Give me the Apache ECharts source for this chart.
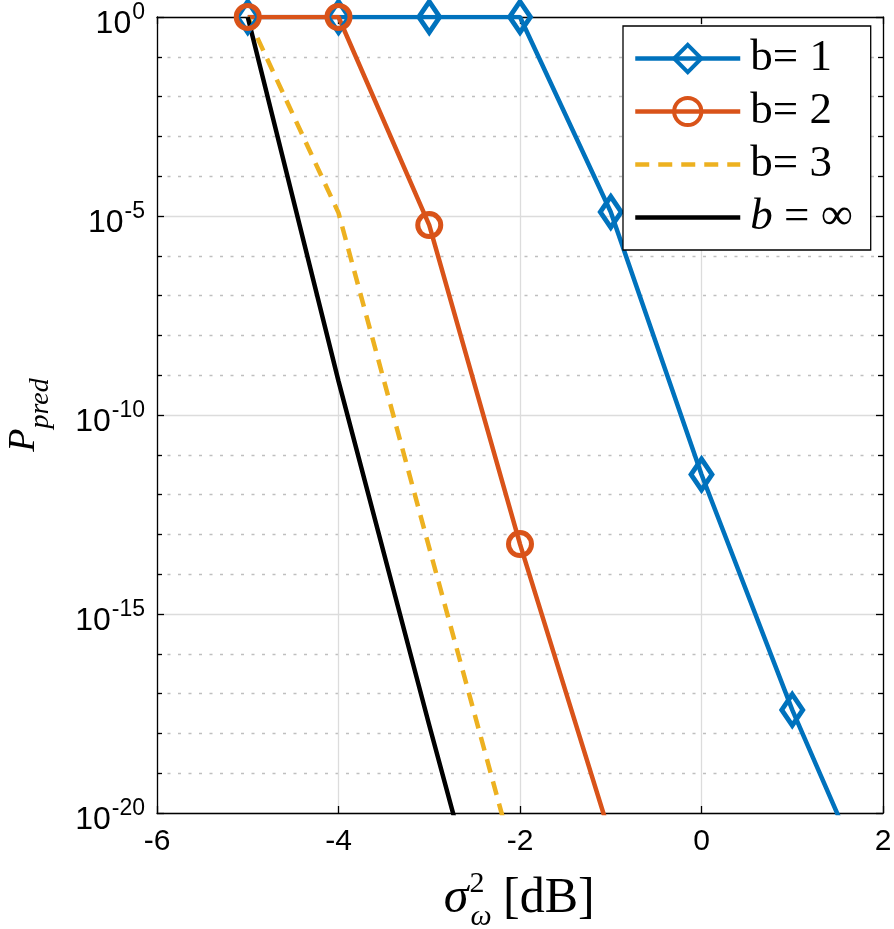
<!DOCTYPE html>
<html><head><meta charset="utf-8">
<script src="https://cdn.jsdelivr.net/npm/echarts@6/dist/echarts.min.js"></script>
<style>html,body{margin:0;padding:0;background:#fff}#c{width:894px;height:929px}</style>
</head><body><div id="c"></div>
<script>
// ---- data ----
const xTicks = [-6, -4, -2, 0, 2];
const yTickExponents = [-20, -15, -10, -5, 0];
const seriesNames = ['b= 1', 'b= 2', 'b= 3', 'b = ∞'];

const x_b1 = [-5, -4, -3, -2, -1, 0, 1, 2];
const p_b1 = [1, 1, 1, 1, 1.26e-5, 3.2e-12, 3.9e-18, 2.2e-23];

const x_b2 = [-5, -4, -3, -2, -1];
const p_b2 = [1, 1, 5.9e-6, 5.7e-14, 2.5e-21];

const x_b3 = [-5, -4, -3, -2];
const p_b3 = [1, 1.2e-5, 4.6e-14, 2e-22];

const x_binf = [-5, -4, -3, -2];
const p_binf = [1, 7.1e-10, 1.6e-18, 6e-27];

// ---- build ----
const toPairs = (xs, ps) => xs.map((x, i) => [x, Math.log10(ps[i])]);
const BLUE = '#0072BD', ORANGE = '#D95319', YELLOW = '#EDB120', BLACK = '#000000';
const serif = '"Liberation Serif", "DejaVu Serif", serif';
const sans = '"Liberation Sans", Arial, sans-serif';
const clear = 'rgba(0,0,0,0)';
const LW = 4.5;

const chart = echarts.init(document.getElementById('c'), null, {renderer: 'canvas'});

const yAxisBase = {
  type: 'value', min: yTickExponents[0], max: yTickExponents[yTickExponents.length - 1], interval: 5,
  axisLine: {show: true, onZero: false, lineStyle: {color: '#000', width: 1.3}},
  axisTick: {show: true, inside: true, length: 7, lineStyle: {color: '#000', width: 1.3}},
  minorTick: {show: true, splitNumber: 5, length: 5, lineStyle: {color: '#000', width: 1.3}}
};
const xAxisBase = {
  type: 'value', min: xTicks[0], max: xTicks[xTicks.length - 1], interval: 2,
  axisLine: {show: true, onZero: false, lineStyle: {color: '#000', width: 1.3}},
  axisTick: {show: true, inside: true, length: 7, lineStyle: {color: '#000', width: 1.3}}
};

const option = {
  animation: false,
  backgroundColor: '#fff',
  grid: {left: 157, right: 11, top: 17, bottom: 116, containLabel: false, outerBoundsMode: 'none'},
  xAxis: [
    Object.assign({}, xAxisBase, {
      position: 'bottom',
      axisLabel: {color: '#000', fontSize: 30, fontFamily: sans, margin: 14},
      splitLine: {show: true, lineStyle: {color: '#dcdcdc', width: 1.3}}
    }),
    Object.assign({}, xAxisBase, {
      position: 'top',
      axisLabel: {show: false},
      splitLine: {show: false}
    })
  ],
  yAxis: [
    Object.assign({}, yAxisBase, {
      position: 'left',
      axisLabel: {
        margin: 12,
        fontSize: 32,
        formatter: v => '{a|10}{b|' + v + '}',
        rich: {
          a: {fontSize: 32, fontFamily: sans, color: '#000', padding: [14, 0, 0, 0]},
          b: {fontSize: 23, fontFamily: sans, color: '#000', padding: [0, 0, 8, 1]}
        }
      },
      splitLine: {show: true, lineStyle: {color: '#dcdcdc', width: 1.3}},
      minorSplitLine: {show: true, lineStyle: {color: '#bfbfbf', width: 1.3, type: [3, 7.5]}},
      name: '{p|P}{s|pred}',
      nameLocation: 'middle',
      nameRotate: 90,
      nameGap: 113,
      nameTextStyle: {
        rich: {
          p: {fontSize: 38, lineHeight: 40, fontStyle: 'italic', fontFamily: serif, color: '#000'},
          s: {fontSize: 28, lineHeight: 26, fontStyle: 'italic', fontFamily: serif, color: '#000', padding: [34, 0, 0, 0]}
        }
      }
    }),
    Object.assign({}, yAxisBase, {
      position: 'right',
      axisLabel: {show: false},
      splitLine: {show: false}
    })
  ],
  legend: {
    orient: 'vertical',
    left: 623, top: 26,
    backgroundColor: '#fff',
    borderColor: '#000', borderWidth: 1.3, borderRadius: 0,
    padding: [10, 18, 10, 10],
    itemWidth: 105, itemHeight: 34, itemGap: 8,
    data: seriesNames,
    lineStyle: {width: LW},
    itemStyle: {borderWidth: 4},
    formatter: name => name === 'b = ∞' ? '{i|b} = ∞' : name,
    textStyle: {
      fontSize: 45, fontFamily: serif, color: '#000', lineHeight: 44, padding: [0, 0, 0, 5],
      rich: {i: {fontSize: 45, fontStyle: 'italic', fontFamily: serif, color: '#000'}}
    }
  },
  graphic: [
    {type: 'text', x: 456, y: 899, style: {text: 'σ', font: 'italic 50px ' + serif, fill: '#000', align: 'center', verticalAlign: 'middle'}},
    {type: 'text', x: 477, y: 884, style: {text: '2', font: '30px ' + serif, fill: '#000', align: 'center', verticalAlign: 'middle'}},
    {type: 'text', x: 481, y: 917, style: {text: 'ω', font: 'italic 30px ' + serif, fill: '#000', align: 'center', verticalAlign: 'middle'}},
    {type: 'text', x: 503, y: 899, style: {text: '[dB]', font: '50px ' + serif, fill: '#000', align: 'left', verticalAlign: 'middle'}}
  ],
  series: [
    {
      name: seriesNames[0], type: 'line', data: toPairs(x_b1, p_b1),
      symbol: 'diamond', symbolSize: [21, 31], clip: true,
      lineStyle: {color: BLUE, width: LW},
      itemStyle: {color: clear, borderColor: BLUE, borderWidth: 5}
    },
    {
      name: seriesNames[1], type: 'line', data: toPairs(x_b2, p_b2),
      symbol: 'circle', symbolSize: 23, clip: true,
      lineStyle: {color: ORANGE, width: LW},
      itemStyle: {color: clear, borderColor: ORANGE, borderWidth: 5}
    },
    {
      name: seriesNames[2], type: 'line', data: toPairs(x_b3, p_b3),
      symbol: 'none', clip: true,
      lineStyle: {color: YELLOW, width: LW, type: [14, 9]},
      itemStyle: {color: clear, borderColor: clear, borderWidth: 0}
    },
    {
      name: seriesNames[3], type: 'line', data: toPairs(x_binf, p_binf),
      symbol: 'none', clip: true,
      lineStyle: {color: BLACK, width: LW},
      itemStyle: {color: clear, borderColor: clear, borderWidth: 0}
    }
  ]
};
chart.setOption(option);
</script>
</body></html>
